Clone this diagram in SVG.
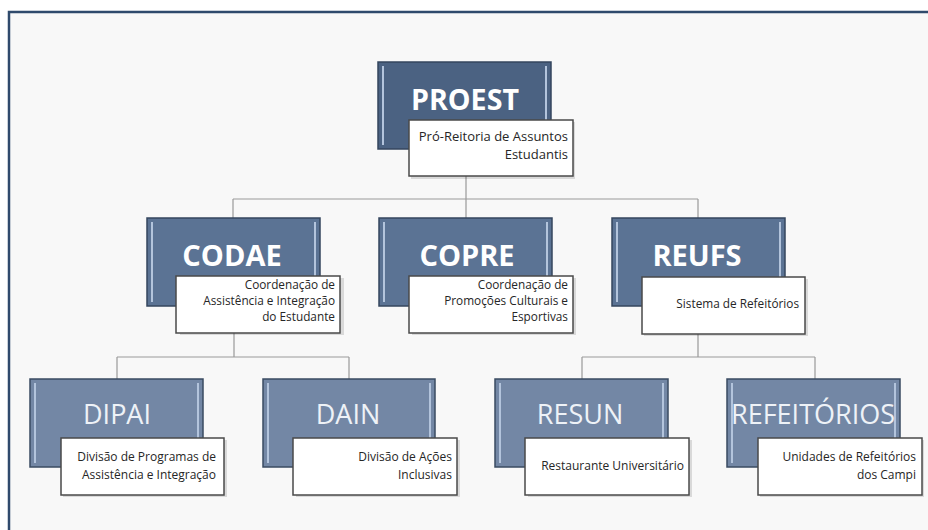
<svg xmlns="http://www.w3.org/2000/svg" width="928" height="530" viewBox="0 0 928 530">
<defs>
<style>
.frame{fill:#f8f8f8;stroke:#2f4a6c;stroke-width:2.5}
.conn{fill:none;stroke:#9a9a9a;stroke-width:1.2}
.b1{fill:#4b6282;stroke:#34465e;stroke-width:1.5}
.b2{fill:#5b7394;stroke:#34465e;stroke-width:1.5}
.b3{fill:#7387a5;stroke:#3a4b62;stroke-width:1.5}
.stripe{fill:none;stroke:#b3c4dc;stroke-width:2}
.lbl{fill:#ffffff;stroke:#4a4a4a;stroke-width:1.5}
.shadow{fill:#000;opacity:0.12}
.t1{font-family:"Open Sans","Liberation Sans",sans-serif;font-weight:bold;fill:#ffffff;text-anchor:middle}
.t3{font-family:"Open Sans","Liberation Sans",sans-serif;fill:#eef2f7;text-anchor:middle}
.sub{font-family:"Open Sans","Liberation Sans",sans-serif;fill:#262626;text-anchor:end}
.s1{font-size:13px}
.s2{font-size:11.8px}
.s3{font-size:12px}
</style>
</defs>
<rect class="frame" x="9" y="12" width="940" height="540"/>
<g id="connectors">
<path class="conn" d="M466 176 V199 M233 199 H698 M233 199 V218 M466 199 V218 M698 199 V218"/>
<path class="conn" d="M234 333 V357 M117 357 H349 M117 357 V379 M349 357 V379"/>
<path class="conn" d="M698 333 V357 M582 357 H815 M582 357 V379 M815 357 V379"/>
</g>
<g id="proest">
<rect class="b1" x="378" y="62" width="173" height="87"/>
<path class="stripe" d="M383 66 V145 M546 66 V145"/>
<text class="t1" x="465" y="110" font-size="28.6">PROEST</text>
<rect class="shadow" x="411" y="122" width="164" height="57"/>
<rect class="lbl" x="409" y="120" width="164" height="56"/>
<text class="sub s1" x="568" y="141">Pró-Reitoria de Assuntos</text>
<text class="sub s1" x="568" y="159">Estudantis</text>
</g>
<g id="codae">
<rect class="b2" x="147" y="218" width="173" height="88"/>
<path class="stripe" d="M152 222 V302 M315 222 V302"/>
<text class="t1" x="232" y="266" font-size="29">CODAE</text>
<rect class="shadow" x="180" y="278" width="164" height="57"/>
<rect class="lbl" x="176" y="276" width="164" height="57"/>
<text class="sub s2" x="335" y="289">Coordenação de</text>
<text class="sub s2" x="335" y="305">Assistência e Integração</text>
<text class="sub s2" x="335" y="321">do Estudante</text>
</g>
<g id="copre">
<rect class="b2" x="379" y="218" width="173" height="88"/>
<path class="stripe" d="M384 222 V302 M547 222 V302"/>
<text class="t1" x="467" y="266" font-size="29">COPRE</text>
<rect class="shadow" x="412" y="278" width="164" height="57"/>
<rect class="lbl" x="409" y="276" width="164" height="57"/>
<text class="sub s2" x="568" y="289">Coordenação de</text>
<text class="sub s2" x="568" y="305">Promoções Culturais e</text>
<text class="sub s2" x="568" y="321">Esportivas</text>
</g>
<g id="reufs">
<rect class="b2" x="612" y="218" width="173" height="88"/>
<path class="stripe" d="M617 222 V302 M780 222 V302"/>
<text class="t1" x="697" y="266" font-size="29">REUFS</text>
<rect class="shadow" x="644" y="279" width="164" height="57"/>
<rect class="lbl" x="642" y="277" width="163" height="57"/>
<text class="sub s2" x="799" y="308" font-size="12.4">Sistema de Refeitórios</text>
</g>
<g id="dipai">
<rect class="b3" x="30" y="379" width="173" height="88"/>
<path class="stripe" d="M35 383 V463 M198 383 V463"/>
<text class="t3" x="117" y="424" font-size="27">DIPAI</text>
<rect class="shadow" x="63" y="440" width="164" height="57"/>
<rect class="lbl" x="61" y="438" width="163" height="57"/>
<text class="sub s3" x="216" y="461">Divisão de Programas de</text>
<text class="sub s3" x="216" y="479">Assistência e Integração</text>
</g>
<g id="dain">
<rect class="b3" x="263" y="379" width="172" height="88"/>
<path class="stripe" d="M268 383 V463 M430 383 V463"/>
<text class="t3" x="348" y="424" font-size="27">DAIN</text>
<rect class="shadow" x="296" y="440" width="164" height="57"/>
<rect class="lbl" x="293" y="438" width="164" height="57"/>
<text class="sub s3" x="452" y="461">Divisão de Ações</text>
<text class="sub s3" x="452" y="479">Inclusivas</text>
</g>
<g id="resun">
<rect class="b3" x="495" y="379" width="173" height="88"/>
<path class="stripe" d="M500 383 V463 M663 383 V463"/>
<text class="t3" x="580" y="424" font-size="27">RESUN</text>
<rect class="shadow" x="528" y="440" width="164" height="57"/>
<rect class="lbl" x="525" y="438" width="164" height="57"/>
<text class="sub s3" x="684" y="470">Restaurante Universitário</text>
</g>
<g id="refeitorios">
<rect class="b3" x="727" y="379" width="173" height="88"/>
<path class="stripe" d="M732 383 V463 M895 383 V463"/>
<text class="t3" x="813" y="424" font-size="27">REFEITÓRIOS</text>
<rect class="shadow" x="760" y="440" width="164" height="57"/>
<rect class="lbl" x="758" y="438" width="164" height="57"/>
<text class="sub s3" x="916" y="461">Unidades de Refeitórios</text>
<text class="sub s3" x="916" y="479">dos Campi</text>
</g>
</svg>
